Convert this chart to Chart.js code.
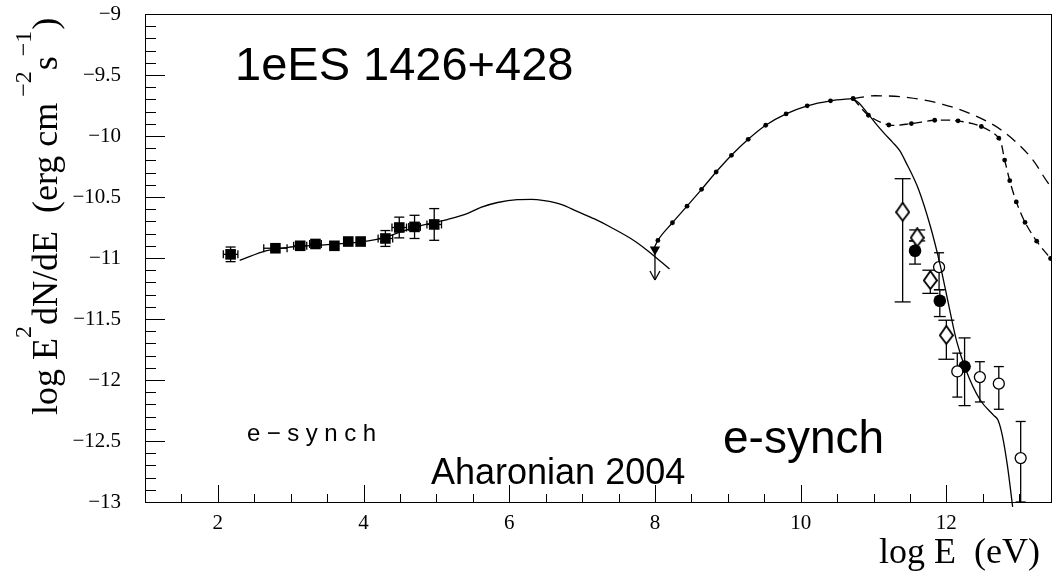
<!DOCTYPE html>
<html>
<head>
<meta charset="utf-8">
<script src="https://cdn.jsdelivr.net/npm/chart.js@4.4.0/dist/chart.umd.min.js"></script>
<style>
  html, body { margin: 0; padding: 0; background: #fff; }
  #sed { display: block; }
</style>
</head>
<body>
<canvas id="sed" width="1054" height="572"></canvas>
<script>
// axis ticks
const xTickValues = [2, 4, 6, 8, 10, 12];
const yTickValues = [-13, -12.5, -12, -11.5, -11, -10.5, -10, -9.5, -9];

// X-ray squares (log E, log E^2 dN/dE, errors)
const sqE = [2.175, 2.79, 3.13, 3.34, 3.60, 3.79, 3.96, 4.30, 4.49, 4.70, 4.97];
const sqF = [-10.97, -10.92, -10.90, -10.885, -10.90, -10.865, -10.865, -10.84, -10.75, -10.745, -10.725];
const sqErrE = [0.1, 0.16, 0.09, 0.08, 0, 0, 0, 0.1, 0.1, 0.08, 0.1];
const sqErrF = [0.06, 0, 0, 0, 0, 0, 0, 0.065, 0.085, 0.095, 0.13];

// TeV points
const diaE = [11.40, 11.60, 11.78, 12.00];
const diaF = [-10.62, -10.83, -11.18, -11.63];
const diaHi = [-10.35, -10.77, -11.10, -11.51];
const diaLo = [-11.36, -10.86, -11.29, -11.83];

const dotE = [11.57, 11.91, 12.25];
const dotF = [-10.94, -11.35, -11.89];
const dotHi = [-10.86, -11.26, -11.655];
const dotLo = [-11.05, -11.48, -12.21];

const ringE = [11.90, 12.15, 12.46, 12.72, 13.02];
const ringF = [-11.075, -11.93, -11.976, -12.03, -12.64];
const ringHi = [-10.957, -11.78, -11.85, -11.89, -12.34];
const ringLo = [-11.26, -12.14, -12.18, -12.24, -13.0];

// EGRET upper limit
const limE = [8.0];
const limF = [-10.93];
const limTo = [-11.18];

// model curves
const syncE = [2.30, 2.67, 3.0, 3.5, 4.0, 4.3, 4.49, 4.70, 4.97, 5.15, 5.43, 5.61, 5.84, 6.11, 6.30, 6.48, 6.71, 6.94, 7.17, 7.40, 7.72, 7.90, 8.20];
const syncF = [-11.02, -10.94, -10.91, -10.89, -10.865, -10.83, -10.79, -10.75, -10.71, -10.685, -10.635, -10.585, -10.545, -10.522, -10.52, -10.53, -10.56, -10.62, -10.68, -10.75, -10.86, -10.94, -11.09];

const icE = [7.98, 8.04, 8.24, 8.44, 8.64, 8.84, 9.05, 9.28, 9.52, 9.80, 10.09, 10.41, 10.72];
const icF = [-10.93, -10.856, -10.711, -10.575, -10.437, -10.295, -10.158, -10.027, -9.912, -9.819, -9.753, -9.712, -9.693];

const absE = [10.72, 10.93, 11.21, 11.52, 11.84, 12.16, 12.48, 12.72, 12.80, 12.87, 12.96, 13.08, 13.24, 13.43, 13.47];
const absF = [-9.693, -9.83, -9.91, -9.898, -9.871, -9.876, -9.922, -10.018, -10.197, -10.366, -10.54, -10.708, -10.862, -11.004, -11.03];

const unabsE = [10.72, 11.02, 11.48, 11.95, 12.40, 12.77, 13.18, 13.39, 13.50];
const unabsF = [-9.693, -9.67, -9.685, -9.74, -9.835, -9.958, -10.19, -10.38, -10.46];

const steepE = [10.72, 10.80, 10.90, 11.02, 11.15, 11.26, 11.36, 11.44, 11.62, 11.78, 11.92, 12.03, 12.14, 12.27, 12.46, 12.65, 12.71, 12.77, 12.84, 12.91];
const steepF = [-9.693, -9.73, -9.80, -9.89, -9.98, -10.05, -10.12, -10.21, -10.44, -10.74, -11.07, -11.38, -11.68, -11.92, -12.16, -12.29, -12.33, -12.46, -12.71, -13.04];

const pts = (xs, ys) => xs.map((v, i) => ({ x: v, y: ys[i] }));

function diamondMark(w, h) {
  const c = document.createElement('canvas');
  c.width = w + 3; c.height = h + 3;
  const g = c.getContext('2d');
  const cx = Math.floor(c.width / 2) + 0.5, cy = Math.floor(c.height / 2) + 0.5;
  g.beginPath();
  g.moveTo(cx, 1);
  g.lineTo(c.width - 1, cy);
  g.lineTo(cx, c.height - 1);
  g.lineTo(1, cy);
  g.closePath();
  g.fillStyle = '#fff'; g.fill();
  g.lineWidth = 1.8; g.strokeStyle = '#000'; g.stroke();
  return c;
}

// stretch plot area to the right edge like the original frame
const fullWidth = {
  id: 'fullWidth',
  afterLayout(chart) {
    const a = chart.chartArea, x = chart.scales.x;
    const right = chart.width - 2;
    a.right = right; a.width = right - a.left;
    x.right = right; x.width = right - x.left;
    x.configure();
  }
};

const errorBars = {
  id: 'errorBars',
  beforeDatasetsDraw(chart) {
    const { ctx, scales: { x, y } } = chart;
    ctx.save();
    ctx.strokeStyle = '#000';
    ctx.lineWidth = 1.3;
    const seg = (a, b, c, d) => { ctx.beginPath(); ctx.moveTo(a, b); ctx.lineTo(c, d); ctx.stroke(); };
    chart.data.datasets.forEach(ds => {
      const e = ds.errors;
      if (!e) return;
      ds.data.forEach((p, i) => {
        const px = x.getPixelForValue(p.x);
        const py = y.getPixelForValue(p.y);
        if (e.hi && e.hi[i] !== e.lo[i]) {
          const t = y.getPixelForValue(e.hi[i]), b = y.getPixelForValue(e.lo[i]);
          seg(px, t, px, b);
          seg(px - e.cap, t, px + e.cap, t);
          seg(px - e.cap, b, px + e.cap, b);
        }
        if (e.dx && e.dx[i]) {
          const l = x.getPixelForValue(p.x - e.dx[i]), r = x.getPixelForValue(p.x + e.dx[i]);
          seg(l, py, r, py);
          seg(l, py - 4, l, py + 4);
          seg(r, py - 4, r, py + 4);
        }
        if (e.to) {
          const b = y.getPixelForValue(e.to[i]);
          seg(px, py, px, b);
          seg(px - 5, b - 9, px, b);
          seg(px + 5, b - 9, px, b);
        }
      });
    });
    ctx.restore();
  }
};

const frameAndText = {
  id: 'frameAndText',
  afterDatasetsDraw(chart) {
    const { ctx, chartArea: a, scales: { x, y } } = chart;
    ctx.save();
    ctx.strokeStyle = '#000';
    ctx.lineWidth = 1;
    ctx.strokeRect(a.left + 0.5, a.top + 0.5, a.right - a.left - 1, a.bottom - a.top);
    // inner ticks
    ctx.beginPath();
    for (let v = 1; v <= 13.45; v += 0.5) {
      const px = Math.round(x.getPixelForValue(v)) + 0.5;
      const len = (v % 2 === 0) ? 17 : 8;
      ctx.moveTo(px, a.bottom); ctx.lineTo(px, a.bottom - len);
    }
    for (let k = 0; k <= 40; k++) {
      const v = -13 + k * 0.1;
      const py = Math.round(y.getPixelForValue(v)) + 0.5;
      const len = (k % 5 === 0) ? 20 : 11;
      ctx.moveTo(a.left, py); ctx.lineTo(a.left + len, py);
    }
    ctx.stroke();

    ctx.fillStyle = '#000';
    ctx.textBaseline = 'alphabetic';
    ctx.textAlign = 'left';
    ctx.font = '47px "Liberation Sans"';
    ctx.fillText('1eES 1426+428', 235, 80);
    ctx.font = '46px "Liberation Sans"';
    ctx.fillText('e-synch', 723, 453);
    ctx.font = '36px "Liberation Sans"';
    ctx.fillText('Aharonian 2004', 431, 484);
    ctx.font = '24px "Liberation Sans"';
    const small = 'e\u2212synch';
    const sw = ctx.measureText(small).width;
    ctx.letterSpacing = ((129 - sw) / (small.length - 1)).toFixed(2) + 'px';
    ctx.fillText(small, 247, 441);
    ctx.letterSpacing = '0px';

    // x title
    ctx.font = '36px "Liberation Serif"';
    ctx.textAlign = 'right';
    ctx.fillText('log E  (eV)', 1040, 563);

    // y title, rotated
    ctx.textAlign = 'left';
    ctx.translate(57, 415);
    ctx.rotate(-Math.PI / 2);
    const main = '36px "Liberation Serif"', sup = '24px "Liberation Serif"';
    const parts = [
      ['log E', main, 0], ['2', sup, -26], ['dN/dE  (erg cm', main, 0],
      [' \u22122', sup, -26], ['s', main, 0], ['\u22121', sup, -26], [')', main, 0]
    ];
    let cx = 0;
    parts.forEach(([t, f, dy]) => {
      ctx.font = f;
      ctx.fillText(t, cx, dy);
      cx += ctx.measureText(t).width + (f === sup ? 1 : 0);
    });
    ctx.restore();
  }
};

new Chart(document.getElementById('sed'), {
  type: 'scatter',
  data: {
    datasets: [
      { data: pts(syncE, syncF), showLine: true, borderColor: '#000', borderWidth: 1.3, pointRadius: 0, cubicInterpolationMode: 'monotone' },
      { data: pts(unabsE, unabsF), showLine: true, borderColor: '#000', borderWidth: 1.3, borderDash: [11, 7], pointRadius: 0, cubicInterpolationMode: 'monotone' },
      { data: pts(absE, absF), showLine: true, borderColor: '#000', borderWidth: 1.3, borderDash: [9, 5], pointRadius: 2.4, pointBackgroundColor: '#000', pointBorderWidth: 0, tension: 0.3 },
      { data: pts(steepE, steepF), showLine: true, borderColor: '#000', borderWidth: 1.3, pointRadius: 0, cubicInterpolationMode: 'monotone', clip: { left: 0, top: 0, right: 0, bottom: 8 } },
      { data: pts(icE, icF), showLine: true, borderColor: '#000', borderWidth: 1.3, pointRadius: icE.map((v, i) => i === 0 ? 0 : 2.4), pointBackgroundColor: '#000', pointBorderWidth: 0, cubicInterpolationMode: 'monotone' },
      { data: pts(sqE, sqF), pointStyle: 'rect', pointRadius: 7.5, pointBackgroundColor: '#000', borderColor: '#000', pointBorderWidth: 0,
        errors: { dx: sqErrE, hi: sqF.map((v, i) => v + sqErrF[i]), lo: sqF.map((v, i) => v - sqErrF[i]), cap: 5 } },
      { data: pts(limE, limF), pointStyle: 'triangle', rotation: 180, pointRadius: 6, pointBackgroundColor: '#000', borderColor: '#000', pointBorderWidth: 0,
        errors: { to: limTo } },
      { data: pts(diaE, diaF), pointStyle: diamondMark(12, 17), pointRadius: 8,
        errors: { hi: diaHi, lo: diaLo, cap: 8 } },
      { data: pts(ringE, ringF), pointStyle: 'circle', pointRadius: 5.5, pointBackgroundColor: '#fff', borderColor: '#000', pointBorderWidth: 1.3,
        errors: { hi: ringHi, lo: ringLo, cap: 5 } },
      { data: pts(dotE, dotF), pointStyle: 'circle', pointRadius: 6.3, pointBackgroundColor: '#000', borderColor: '#000', pointBorderWidth: 0,
        errors: { hi: dotHi, lo: dotLo, cap: 6 } }
    ]
  },
  options: {
    responsive: false,
    animation: false,
    devicePixelRatio: 1,
    layout: { padding: { top: 14, right: 2, left: 0, bottom: 0 } },
    plugins: { legend: { display: false }, tooltip: { enabled: false } },
    scales: {
      x: {
        type: 'linear', min: 1, max: 13.45,
        grid: { display: false, drawTicks: false }, border: { display: false },
        afterBuildTicks: s => { s.ticks = xTickValues.map(v => ({ value: v })); },
        afterFit: s => { s.height = 70; s.paddingLeft = 0; s.paddingRight = 0; },
        ticks: { padding: 9, maxRotation: 0, color: '#000', font: { family: '"Liberation Serif"', size: 21 } }
      },
      y: {
        type: 'linear', min: -13, max: -9,
        grid: { display: false, drawTicks: false }, border: { display: false },
        afterBuildTicks: s => { s.ticks = yTickValues.map(v => ({ value: v })); },
        afterFit: s => { s.width = 145; s.paddingTop = 0; s.paddingBottom = 0; },
        ticks: { padding: 24, color: '#000', font: { family: '"Liberation Serif"', size: 21 },
          callback: v => String(v).replace('-', '\u2212') }
      }
    }
  },
  plugins: [fullWidth, errorBars, frameAndText]
});
</script>
</body>
</html>
